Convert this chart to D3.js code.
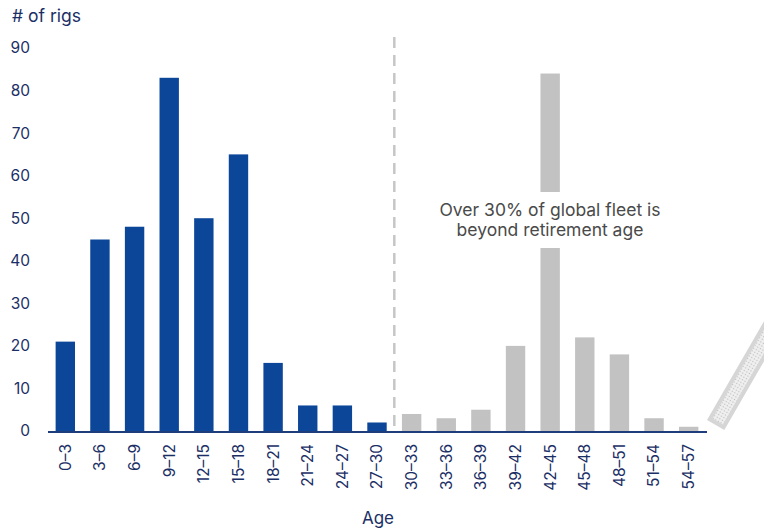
<!DOCTYPE html>
<html><head><meta charset="utf-8">
<script src="https://cdn.jsdelivr.net/npm/d3@7"></script>
<style>body{margin:0;background:#fff;}svg{display:block;font-family:"Inter","Noto Sans",sans-serif;}</style>
</head><body><svg id="c" width="764" height="529"></svg>
<script>
const categories = ["0–3","3–6","6–9","9–12","12–15","15–18","18–21","21–24","24–27","27–30","30–33","33–36","36–39","39–42","42–45","45–48","48–51","51–54","54–57"];
const rigCounts = [21,45,48,83,50,65,16,6,6,2,4,3,5,20,84,22,18,3,1];
const yTicks = [0,10,20,30,40,50,60,70,80,90];
const retiredFrom = "30–33";
const annotation = ["Over 30% of global fleet is","beyond retirement age"];

const svg = d3.select("#c");
const navy = "#1b2f66", blue = "#0b4699", grey = "#c2c2c2";
const x = d3.scaleBand().domain(categories).range([48, 706]).paddingInner(0.44).paddingOuter(0.22);
const y = d3.scaleLinear().domain([0, 90]).range([431, 48]);

// y tick labels
svg.append("g").selectAll("text").data(yTicks).join("text")
  .attr("x", 30).attr("y", d => y(d)).attr("dy", "0.35em").attr("text-anchor", "end")
  .attr("font-size", 15.5).attr("fill", navy).text(d => d);
svg.append("text").attr("x", 12).attr("y", 22).attr("font-size", 17.5).attr("fill", navy).text("# of rigs");

// bars
const retIdx = categories.indexOf(retiredFrom);
svg.append("g").selectAll("rect").data(categories).join("rect")
  .attr("x", d => x(d)).attr("width", x.bandwidth())
  .attr("y", (d, i) => y(rigCounts[i])).attr("height", (d, i) => y(0) - y(rigCounts[i]))
  .attr("fill", (d, i) => i < retIdx ? blue : grey);

// dashed separator
const sepX = (x(categories[retIdx - 1]) + x.bandwidth() + x(retiredFrom)) / 2;
svg.append("line").attr("x1", sepX).attr("x2", sepX).attr("y1", 37).attr("y2", 431)
  .attr("stroke", "#c6c6c6").attr("stroke-width", 2.5).attr("stroke-dasharray", "11,7");

// annotation with white backing
svg.append("rect").attr("x", 425).attr("y", 192).attr("width", 250).attr("height", 56).attr("fill", "#fff");
svg.append("g").selectAll("text").data(annotation).join("text")
  .attr("x", 550).attr("y", (d, i) => 216 + i * 20).attr("text-anchor", "middle")
  .attr("font-size", 17.5).attr("fill", "#4a4a4a").text(d => d);

// axis line
svg.append("line").attr("x1", 48).attr("x2", 707).attr("y1", 432).attr("y2", 432)
  .attr("stroke", "#1f3d7a").attr("stroke-width", 2);

// x labels
svg.append("g").selectAll("text").data(categories).join("text")
  .attr("transform", d => `translate(${x(d) + x.bandwidth() / 2},444) rotate(-90)`)
  .attr("text-anchor", "end").attr("dy", "0.35em")
  .attr("font-size", 15.5).attr("fill", navy).text(d => d);
svg.append("text").attr("x", 378).attr("y", 524).attr("text-anchor", "middle")
  .attr("font-size", 17).attr("fill", navy).text("Age");

// decorative tilted bar at bottom right
const defs = svg.append("defs");
const pat = defs.append("pattern").attr("id", "dots").attr("width", 3).attr("height", 3).attr("patternUnits", "userSpaceOnUse");
pat.append("rect").attr("width", 3).attr("height", 3).attr("fill", "#f0f0f0");
pat.append("circle").attr("cx", 1.5).attr("cy", 1.5).attr("r", 0.7).attr("fill", "#bdbdbd");
const deco = svg.append("g").attr("transform", "translate(707,420) rotate(-60)");
deco.append("rect").attr("x", 2).attr("y", 2).attr("width", 150).attr("height", 16)
  .attr("fill", "url(#dots)").attr("stroke", "#d6d6d6").attr("stroke-width", 4);
</script></body></html>
